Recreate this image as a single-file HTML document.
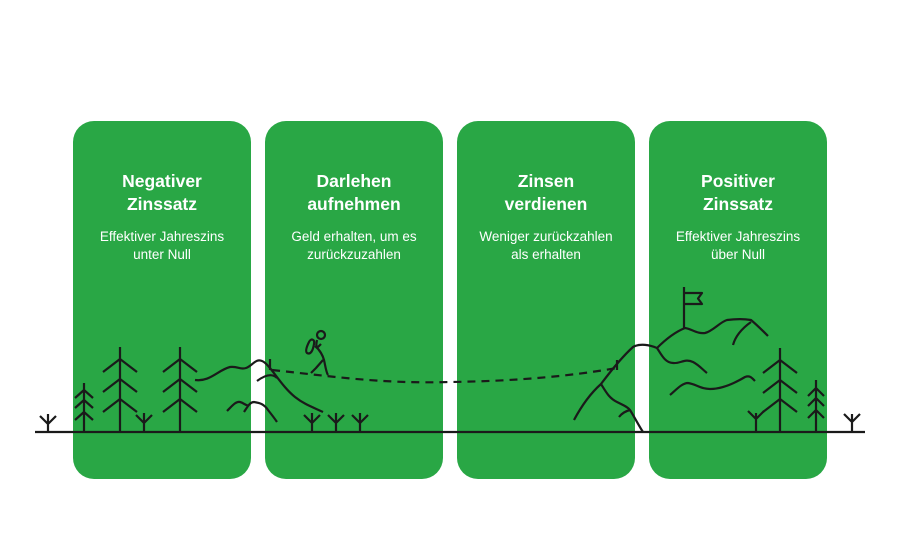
<!DOCTYPE html>
<html><head><meta charset="utf-8"><style>
html,body{margin:0;padding:0;background:#fff}
body{width:900px;height:558px;position:relative;overflow:hidden;font-family:"Liberation Sans",sans-serif}
.c{position:absolute;top:121px;width:178px;height:358px;background:#29a745;border-radius:21px;color:#fff;text-align:center}
.t{position:absolute;top:49px;left:0;right:0;font-weight:bold;font-size:17.5px;line-height:23px}
.s{position:absolute;top:107px;left:0;right:0;font-size:13.5px;line-height:18px}
svg{position:absolute;left:0;top:0}
</style></head><body>
<div class="c" style="left:73px"><div class="t">Negativer<br>Zinssatz</div><div class="s">Effektiver Jahreszins<br>unter Null</div></div>
<div class="c" style="left:265px"><div class="t">Darlehen<br>aufnehmen</div><div class="s">Geld erhalten, um es<br>zurückzuzahlen</div></div>
<div class="c" style="left:457px"><div class="t">Zinsen<br>verdienen</div><div class="s">Weniger zurückzahlen<br>als erhalten</div></div>
<div class="c" style="left:649px"><div class="t">Positiver<br>Zinssatz</div><div class="s">Effektiver Jahreszins<br>über Null</div></div>
<svg width="900" height="558" viewBox="0 0 900 558" fill="none" stroke="#1a1a1a" stroke-width="2.2" stroke-linecap="butt" stroke-linejoin="round">
<line x1="35" y1="432" x2="865" y2="432"/>
<path d="M48 432V414M40 416L48 424L56 416"/>
<path d="M144 432V413M136 415L144 423L152 415"/>
<path d="M312 432V413M304 415L312 423L320 415"/>
<path d="M336 432V413M328 415L336 423L344 415"/>
<path d="M360 432V413M352 415L360 423L368 415"/>
<path d="M756 432V413M748 411L756 419L764 411"/>
<path d="M852 432V414M844 414L852 422L860 414"/>
<path d="M84 432V383M75 398L84 390L93 398M75 408L84 400L93 408M75 420L84 412L93 420"/>
<path d="M816 432V380M808 396L816 388L824 396M808 406L816 398L824 406M808 418L816 410L824 418"/>
<path d="M120 432V347M103 372L120 359L137 372M103 392L120 379L137 392M103 412L120 399L137 412"/>
<path d="M180 432V347M163 372L180 359L197 372M163 392L180 379L197 392M163 412L180 399L197 412"/>
<path d="M780 432V348M763 373L780 360L797 373M763 393L780 380L797 393M763 412L780 399L797 412"/>
<path d="M195 380C210 382 218 370 230 367C238 366 240 370 246 368C252 366 256 358 262 361C270 364 280 385 295 397C305 405 315 408 323 412"/>
<path d="M257 381C265 375 272 373 277 378"/>
<path d="M270 359V370"/>
<path d="M227 411C232 406 236 401 240 402C244 403 246 406 248 405"/>
<path d="M244 412C248 406 250 402 254 402C260 403 264 404 268 410C272 415 275 419 277 422"/>
<path d="M272 370C330 376 380 384 450 382C520 381 570 376 617 368" stroke-dasharray="8 6"/>
<circle cx="321" cy="335" r="4"/>
<path d="M309 342C311 338 315 339 314 344C313 350 311 355 307 353C305 351 307 346 309 342Z"/>
<path d="M317 340C316 345 316 347 318 347L321 344"/>
<path d="M315 346C320 350 323 356 324 360C325 364 326 372 328 375"/>
<path d="M323 360L316 368L311 373"/>
<path d="M574 420C582 405 592 392 601 384C610 372 622 357 633 347C640 343 650 345 657 348C665 340 675 332 685 328C692 329 697 334 705 333C713 331 720 322 727 320C735 319 745 319 751 320C757 325 763 331 768 336"/>
<path d="M733 345C736 334 744 327 751 322"/>
<path d="M657 348C661 354 665 363 673 363C680 364 685 358 693 362C699 365 703 370 707 373"/>
<path d="M670 395C676 390 682 383 688 383C696 384 700 389 710 389C722 389 735 383 745 377C750 375 752 378 755 381"/>
<path d="M601 384C606 392 609 398 617 402C623 405 628 407 630 410C635 418 639 426 643 432"/>
<path d="M619 417C622 413 626 411 630 410"/>
<path d="M617 360V370"/>
<path d="M684 328V287M684 293H702L698 298.5L702 304H684"/>
</svg>
</body></html>
